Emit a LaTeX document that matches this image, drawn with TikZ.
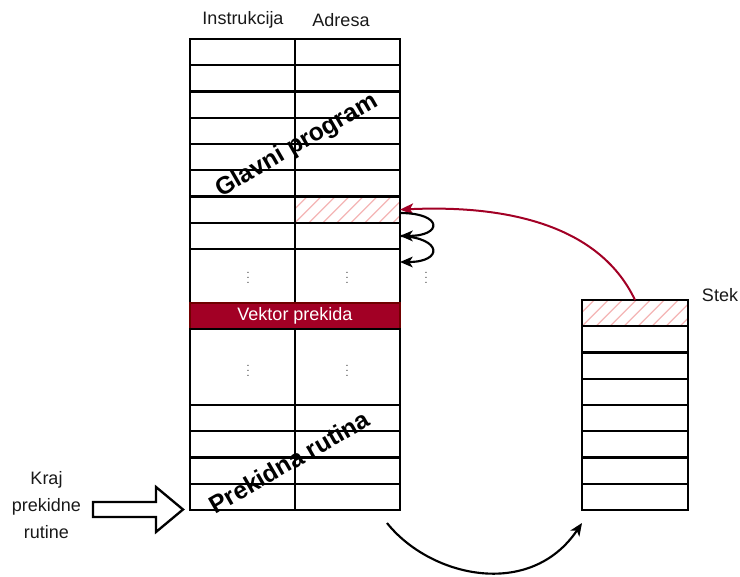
\documentclass[tikz,border=0pt]{standalone}
\usepackage{fontspec}
\setmainfont{Liberation Sans}
\usetikzlibrary{arrows.meta}
\definecolor{vred}{HTML}{A20025}
\definecolor{vredborder}{HTML}{6F0000}
\definecolor{hatchc}{HTML}{F4B4B4}
\def\px{0.75pt}
\tikzset{
  cell/.style={draw=black, line width=1.75pt, minimum width=105*\px, inner sep=0pt, outer sep=0pt, anchor=north west},
  scell/.style={draw=black, line width=1.75pt, minimum width=106*\px, minimum height=26.25*\px, inner sep=0pt, outer sep=0pt, anchor=north west},
  lbl/.style={font=\fontsize{13.5}{20.25}\selectfont, text=black!90, inner sep=0pt},
  big/.style={font=\fontsize{18.5}{22}\selectfont\bfseries, rotate=30, inner sep=0pt},
  vdot/.style={font=\fontsize{8}{8}\selectfont, inner sep=0pt, text=black!80},
  hatch/.style={draw=hatchc, line width=0.9pt},
  redarrow/.style={draw=vred, line width=1.5pt, -{Stealth[length=10pt,width=8.5pt,inset=2.5pt]}},
  loop/.style={draw=black, line width=1.6pt, -{Stealth[length=9.5pt,width=8pt,inset=2.5pt]}},
}
\begin{document}
\begin{tikzpicture}[x=0.75pt,y=-0.75pt]
\useasboundingbox (0,0) rectangle (740,576);

% hatch fills
\begin{scope}
  \clip (295,196.5) rectangle (400,222.75);
  \foreach \i in {-28,-14,...,112} \draw[hatch] (295+\i,222.75) -- ++(26.25,-26.25);
\end{scope}
\begin{scope}
  \clip (582,300) rectangle (688,326.25);
  \foreach \i in {-28,-14,...,112} \draw[hatch] (582+\i,326.25) -- ++(26.25,-26.25);
\end{scope}

% headers
\node[lbl] (hi) at (243,20) {Instrukcija};
\node[lbl] (ha) at (341,20) {Adresa};

% main program rows
\foreach \k in {1,...,8}{
  \node[cell, minimum height=26.25*\px] (i\k) at (190,{39+26.25*(\k-1)}) {};
  \node[cell, minimum height=26.25*\px] (a\k) at (295,{39+26.25*(\k-1)}) {};
}
\node[cell, minimum height=54*\px] (i9) at (190,249) {};
\node[cell, minimum height=54*\px] (a9) at (295,249) {};
\node[draw=vredborder, fill=vred, line width=1.75pt, minimum width=210*\px, minimum height=26.25*\px,
      inner sep=0pt, outer sep=0pt, anchor=north west, text=white,
      font=\fontsize{13.5}{16}\selectfont] (vek) at (190,303) {Vektor prekida};
\node[cell, minimum height=75.75*\px] (i10) at (190,329.25) {};
\node[cell, minimum height=75.75*\px] (a10) at (295,329.25) {};
\foreach \k in {11,...,14}{
  \node[cell, minimum height=26.25*\px] (i\k) at (190,{405+26.25*(\k-11)}) {};
  \node[cell, minimum height=26.25*\px] (a\k) at (295,{405+26.25*(\k-11)}) {};
}

% ellipses
\node[vdot] (d1) at (248,274) {$\vdots$};
\node[vdot] (d2) at (347,274) {$\vdots$};
\node[vdot] (d3) at (426,274) {$\vdots$};
\node[vdot] (d4) at (248,367) {$\vdots$};
\node[vdot] (d5) at (347,367) {$\vdots$};

% big rotated labels
\node[big] (gp) at (297,146) {Glavni program};
\node[big] (pr) at (289,462) {Prekidna rutina};

% stack
\foreach \k in {1,...,8}{
  \node[scell] (s\k) at (582,{300+26.25*(\k-1)}) {};
}
\node[lbl] (stek) at (720,295) {Stek};

% arrows
\coordinate (l1) at (400,213);
\coordinate (l3) at (400,262);
\draw[redarrow] (s1.north) .. controls (598,222) and (500,205) .. (a7.east);
\draw[loop] (l1) .. controls (443,213) and (443,236) .. (a8.east);
\draw[loop] (a8.east) .. controls (443,238) and (443,262) .. (l3);

\coordinate (b1) at (387,523);
\coordinate (b2) at (582,523);
\draw[loop] (b1) .. controls (430,577) and (530,600) .. (b2);

% end of routine label and block arrow
\node[lbl, align=center] (kraj) at (46.5,505) {Kraj\\prekidne\\rutine};
\draw[line width=1.75pt, line join=miter] (93,502) -- (156,502) -- (156,487) -- (183,509.5) -- (156,532) -- (156,517) -- (93,517) -- cycle;
\end{tikzpicture}
\end{document}
